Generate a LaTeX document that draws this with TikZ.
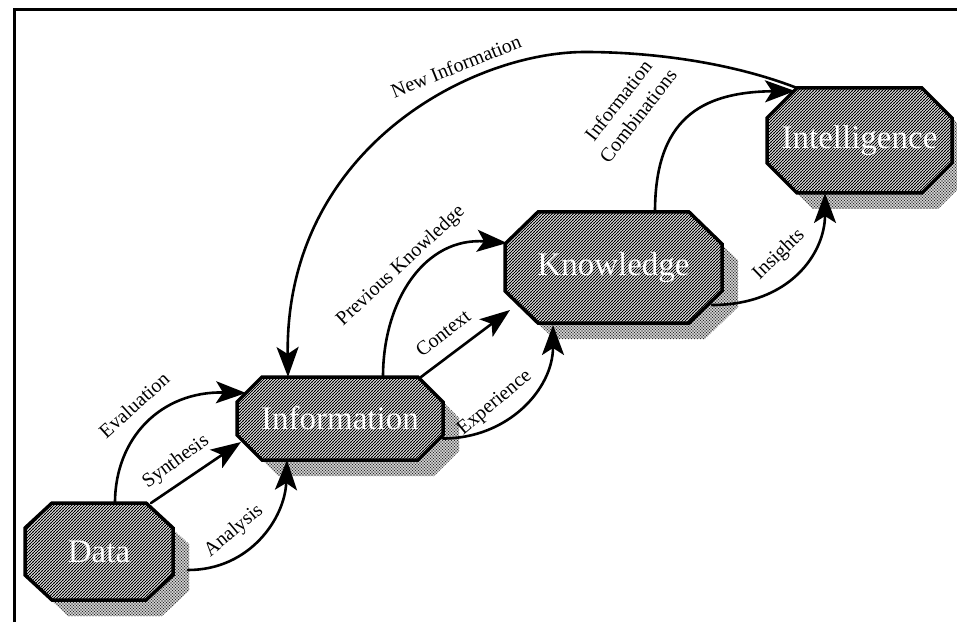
\documentclass[tikz,border=0pt]{standalone}
\usepackage{fontspec}
\setmainfont{Liberation Serif}
\usetikzlibrary{arrows.meta,calc,patterns}

% dense diagonal hatch for the stage boxes
\pgfdeclarepatternformonly{boxhatch}{\pgfqpoint{-1pt}{-1pt}}{\pgfqpoint{4pt}{4pt}}{\pgfqpoint{3pt}{3pt}}{%
  \pgfsetlinewidth{1.0pt}%
  \pgfpathmoveto{\pgfqpoint{-0.5pt}{-0.5pt}}\pgfpathlineto{\pgfqpoint{3.5pt}{3.5pt}}%
  \pgfusepath{stroke}}
% stippled dots for the drop shadows
\pgfdeclarepatternformonly{shadedots}{\pgfqpoint{-1pt}{-1pt}}{\pgfqpoint{4pt}{4pt}}{\pgfqpoint{3pt}{3pt}}{%
  \pgfpathcircle{\pgfqpoint{0pt}{0pt}}{0.8pt}%
  \pgfpathcircle{\pgfqpoint{1.5pt}{1.5pt}}{0.8pt}%
  \pgfusepath{fill}}

\pgfdeclarelayer{shade}
\pgfdeclarelayer{links}
\pgfdeclarelayer{boxes}
\pgfsetlayers{shade,links,boxes,main}

% octagon outline around a node: #1 node, #2 horizontal cut, #3 vertical cut
\newcommand\octpath[3]{($(#1.north west)+(#2,0)$) -- ($(#1.north east)+(-#2,0)$) --
  ($(#1.north east)+(0,-#3)$) -- ($(#1.south east)+(0,#3)$) --
  ($(#1.south east)+(-#2,0)$) -- ($(#1.south west)+(#2,0)$) --
  ($(#1.south west)+(0,#3)$) -- ($(#1.north west)+(0,-#3)$) -- cycle}

\begin{document}
\begin{tikzpicture}[x=1pt,y=1pt,
  stagebox/.style={inner sep=0pt, outer sep=0pt, text=white,
    font=\fontsize{33}{36}\selectfont},
  lbl/.style={inner sep=0pt, font=\fontsize{20}{25}\selectfont},
  flow/.style={line width=2.6pt, line cap=round,
    -{Stealth[length=30pt,width=22pt,inset=7pt]}}]

\useasboundingbox (0,0) rectangle (957,622);

% frame
\draw[line width=3pt] (14,0) -- (14,612) -- (957,612);

% stages
\node[stagebox, minimum width=148pt, minimum height=97pt]  (data)  at (99,70.5)    {Data};
\node[stagebox, minimum width=206pt, minimum height=83pt]  (info)  at (340,203.5)  {Information};
\node[stagebox, minimum width=217pt, minimum height=111pt] (know)  at (613.5,354.5) {Knowledge};
\node[stagebox, minimum width=185pt, minimum height=105pt] (intel) at (859.5,481.5) {Intelligence};

% highest point of the feedback arc
\coordinate (npeak) at (585,570);

% drop shadows
\begin{pgfonlayer}{shade}
  \begin{scope}[transform canvas={shift={(16pt,-16pt)}}]
    \foreach \n/\cx/\cy in {data/27/25, info/25/25, know/33/32, intel/30/30}
      \path[pattern=shadedots, pattern color=black!85] \octpath{\n}{\cx}{\cy};
  \end{scope}
\end{pgfonlayer}

% octagonal boxes
\begin{pgfonlayer}{boxes}
  \foreach \n/\cx/\cy in {data/27/25, info/25/25, know/33/32, intel/30/30}{
    \path[fill=white] \octpath{\n}{\cx}{\cy};
    \path[pattern=boxhatch, pattern color=black] \octpath{\n}{\cx}{\cy};
    \draw[line width=3.5pt] \octpath{\n}{\cx}{\cy};
  }
\end{pgfonlayer}

% connectors
\begin{pgfonlayer}{links}
  % Evaluation
  \draw[flow] ([xshift=16pt]data.north) .. controls +(0,65) and +(-85,2) ..
    ([xshift=9pt,yshift=-16pt]info.north west);
  % Synthesis
  \draw[flow] ([xshift=-22pt]data.north east) -- ([xshift=4pt,yshift=-23.5pt]info.west);
  % Analysis
  \draw[flow] ([xshift=15pt,yshift=-18.5pt]data.east) .. controls +(62,0) and +(-2,-58) ..
    ([xshift=-53pt]info.south);
  % Context
  \draw[flow] ([xshift=-22pt]info.north east) -- ([xshift=5pt,yshift=-42.5pt]know.west);
  % Previous Knowledge
  \draw[flow] ([xshift=43pt]info.north) .. controls +(0,77) and +(-82,6) ..
    ([xshift=2pt,yshift=-31pt]know.north west);
  % Experience
  \draw[flow] ([yshift=-20pt]info.east) .. controls +(65,0) and +(0,-64) ..
    ([xshift=-60.5pt,yshift=-2pt]know.south);
  % New Information
  \draw[flow] ([xshift=30pt]intel.north west) .. controls +(-67,26) and +(65,0) .. (npeak)
    .. controls +(-115,0) and +(-3,227) .. ([xshift=-52pt]info.north);
  % Information Combinations
  \draw[flow] ([xshift=41.5pt]know.north) .. controls +(0,92) and +(-95,-1) ..
    ([xshift=28pt,yshift=-3pt]intel.north west);
  % Insights
  \draw[flow] ([xshift=-10pt,yshift=18pt]know.south east) .. controls +(78,0) and +(0,-60) ..
    ([xshift=-34.5pt]intel.south);
\end{pgfonlayer}

% connector labels
\node[lbl, rotate=42] (lEval) at (134,217) {Evaluation};
\node[lbl, rotate=36] (lSyn)  at (176,160) {Synthesis};
\node[lbl, rotate=40] (lAna)  at (234,91)  {Analysis};
\node[lbl, rotate=38] (lCtx)  at (443,289) {Context};
\node[lbl, rotate=40] (lExp)  at (495,219) {Experience};
\node[lbl, rotate=43] (lPrev) at (401,356) {Previous Knowledge};
\node[lbl, rotate=22] (lNew)  at (456,556) {New Information};
\node[lbl, rotate=52, align=center] (lComb) at (628,514) {Information\\Combinations};
\node[lbl, rotate=44] (lIns)  at (779,367) {Insights};

\end{tikzpicture}
\end{document}
